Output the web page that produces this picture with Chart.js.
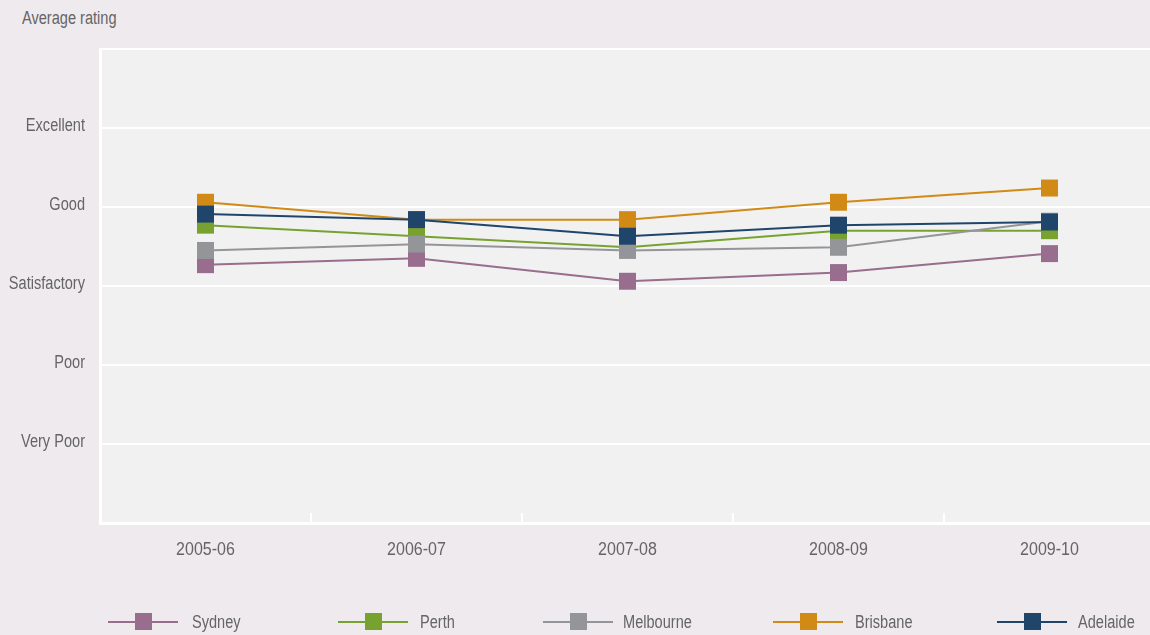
<!DOCTYPE html>
<html>
<head>
<meta charset="utf-8">
<script src="https://cdn.jsdelivr.net/npm/chart.js@4.4.0/dist/chart.umd.min.js"></script>
<style>
  html, body { margin: 0; padding: 0; background: #eeeaed; overflow: hidden; }
  body { width: 1150px; height: 635px; position: relative; font-family: "Liberation Sans", Arial, sans-serif; color: #656565; }
  #wrap { position: absolute; left: 0; top: 0; width: 1167px; height: 635px; }
  #ytitle { position: absolute; left: 22px; top: 8px; font-size: 18px; transform: scaleX(0.81); transform-origin: 0 0; white-space: nowrap; }
  .leg { position: absolute; top: 612px; height: 20px; font-size: 18px; }
  .leg .ln { position: absolute; left: 0; top: 9px; width: 70px; height: 2px; }
  .leg .sq { position: absolute; left: 27px; top: 1px; width: 17px; height: 17px; }
  .leg .t { position: absolute; top: 0px; white-space: nowrap; transform: scaleX(0.81); transform-origin: 0 0; }
</style>
</head>
<body>
<div id="ytitle">Average rating</div>
<div id="wrap"><canvas id="chart"></canvas></div>
<div id="legend"></div>
<script>
const years = ['2005-06', '2006-07', '2007-08', '2008-09', '2009-10'];
const ratingLabels = ['', 'Very Poor', 'Poor', 'Satisfactory', 'Good', 'Excellent', ''];

const sydney = [3.27, 3.35, 3.06, 3.17, 3.41];
const perth = [3.77, 3.63, 3.49, 3.70, 3.70];
const melbourne = [3.45, 3.53, 3.45, 3.49, 3.82];
const brisbane = [4.06, 3.84, 3.84, 4.06, 4.24];
const adelaide = [3.91, 3.84, 3.63, 3.77, 3.81];

const seriesNames = ['Sydney', 'Perth', 'Melbourne', 'Brisbane', 'Adelaide'];
const seriesColors = ['#986d8d', '#78a22f', '#939598', '#d18a16', '#1f456b'];
const seriesData = [sydney, perth, melbourne, brisbane, adelaide];

// legend x positions: line sample start and label start
const legendX = [108, 338, 543, 773, 997];
const legendTextX = [192, 420, 623, 855, 1078];

const FONT = '18px "Liberation Sans", Arial, sans-serif';
const TEXT_COLOR = '#656565';

// draws a label squeezed horizontally around its anchor
function narrowText(ctx, text, x, y, align, squeeze) {
  ctx.save();
  ctx.translate(x, y);
  ctx.scale(squeeze, 1);
  ctx.textAlign = align;
  ctx.fillText(text, 0, 0);
  ctx.restore();
}

// plot background, category tick marks and axis labels
const plotDecor = {
  id: 'plotDecor',
  beforeDraw(chart) {
    const a = chart.chartArea;
    const ctx = chart.ctx;
    ctx.save();
    ctx.fillStyle = '#f1f1f1';
    ctx.fillRect(a.left, a.top, a.right - a.left, a.bottom - a.top);
    ctx.restore();
  },
  afterDraw(chart) {
    const x = chart.scales.x;
    const y = chart.scales.y;
    const a = chart.chartArea;
    const ctx = chart.ctx;
    ctx.save();
    ctx.strokeStyle = '#ffffff';
    ctx.lineWidth = 2;
    for (let i = 0; i < years.length - 1; i++) {
      const px = Math.round((x.getPixelForTick(i) + x.getPixelForTick(i + 1)) / 2);
      ctx.beginPath();
      ctx.moveTo(px, a.bottom);
      ctx.lineTo(px, a.bottom - 10);
      ctx.stroke();
    }
    ctx.font = FONT;
    ctx.fillStyle = TEXT_COLOR;
    ctx.textBaseline = 'middle';
    years.forEach((lbl, i) => {
      narrowText(ctx, lbl, x.getPixelForTick(i), a.bottom + 27, 'center', 0.89);
    });
    // rating labels sit just on top of their gridline
    ctx.textBaseline = 'alphabetic';
    ratingLabels.forEach((lbl, v) => {
      if (lbl) narrowText(ctx, lbl, a.left - 15, y.getPixelForValue(v) + 3, 'right', 0.81);
    });
    ctx.restore();
  }
};

const ctx = document.getElementById('chart');
const chart = new Chart(ctx, {
  type: 'line',
  data: {
    labels: years,
    datasets: seriesData.map((d, i) => ({
      label: seriesNames[i],
      data: d,
      borderColor: seriesColors[i],
      backgroundColor: seriesColors[i],
      borderWidth: 2,
      pointStyle: 'rect',
      pointRadius: 12,
      pointHoverRadius: 12,
      pointBorderWidth: 0,
      tension: 0,
      order: seriesData.length - 1 - i
    }))
  },
  options: {
    responsive: true,
    maintainAspectRatio: false,
    animation: false,
    layout: { padding: { top: 49, right: 5, left: 0, bottom: 0 } },
    plugins: {
      legend: { display: false },
      tooltip: { enabled: false }
    },
    scales: {
      x: {
        offset: true,
        grid: { display: false },
        border: { display: true, color: '#ffffff', width: 3 },
        ticks: { display: false },
        afterFit(scale) { scale.height = 112; }
      },
      y: {
        min: 0,
        max: 6,
        grid: { color: '#ffffff', lineWidth: 2, drawTicks: false },
        border: { display: true, color: '#ffffff', width: 3 },
        ticks: { stepSize: 1, display: false },
        afterFit(scale) { scale.width = 100; }
      }
    }
  },
  plugins: [plotDecor]
});

// legend
const legend = document.getElementById('legend');
seriesNames.forEach((name, i) => {
  const item = document.createElement('div');
  item.className = 'leg';
  item.style.left = legendX[i] + 'px';
  item.innerHTML = '<div class="ln" style="background:' + seriesColors[i] + '"></div>' +
    '<div class="sq" style="background:' + seriesColors[i] + '"></div>' +
    '<span class="t" style="left:' + (legendTextX[i] - legendX[i]) + 'px">' + name + '</span>';
  legend.appendChild(item);
});
</script>
</body>
</html>
